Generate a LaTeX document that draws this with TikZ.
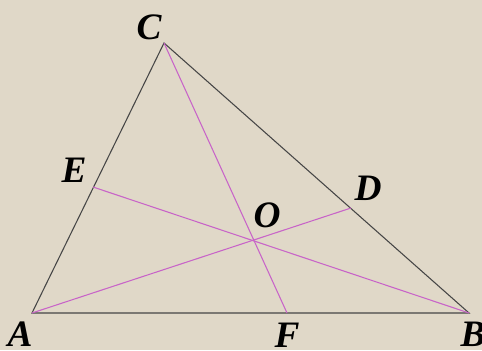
\documentclass[tikz,border=0pt]{standalone}
\usepackage{fontspec}
\setmainfont{Liberation Serif}
\definecolor{bgc}{RGB}{224,216,200}
\definecolor{edgec}{RGB}{70,70,70}
\definecolor{cevc}{RGB}{200,100,200}
\begin{document}
\begin{tikzpicture}[x=0.75pt,y=-0.75pt,
  edge/.style={draw=edgec,line width=0.8pt},
  cevian/.style={draw=cevc,line width=0.8pt},
  lab/.style={font=\fontsize{28}{30}\selectfont\bfseries\itshape,inner sep=0pt}]
\fill[bgc] (0,0) rectangle (482,350);
\useasboundingbox (0,0) rectangle (482,350);
\coordinate (A) at (32,313);
\coordinate (B) at (469,313);
\coordinate (C) at (164,43);
\coordinate (E) at (93,187);
\coordinate (D) at (351,208);
\coordinate (F) at (287,313);
\coordinate (O) at (253,241);
\draw[edge] (A) -- (B) -- (C) -- cycle;
\draw[cevian] (C) -- (F);
\draw[cevian] (A) -- (D);
\draw[cevian] (B) -- (E);
\node[lab] (lA) at (20,334) {A};
\node[lab] (lB) at (473,334) {B};
\node[lab] (lC) at (149,27) {C};
\node[lab] (lD) at (368,188) {D};
\node[lab] (lE) at (74,170) {E};
\node[lab] (lF) at (287,335) {F};
\node[lab] (lO) at (267,215) {O};
\end{tikzpicture}
\end{document}
